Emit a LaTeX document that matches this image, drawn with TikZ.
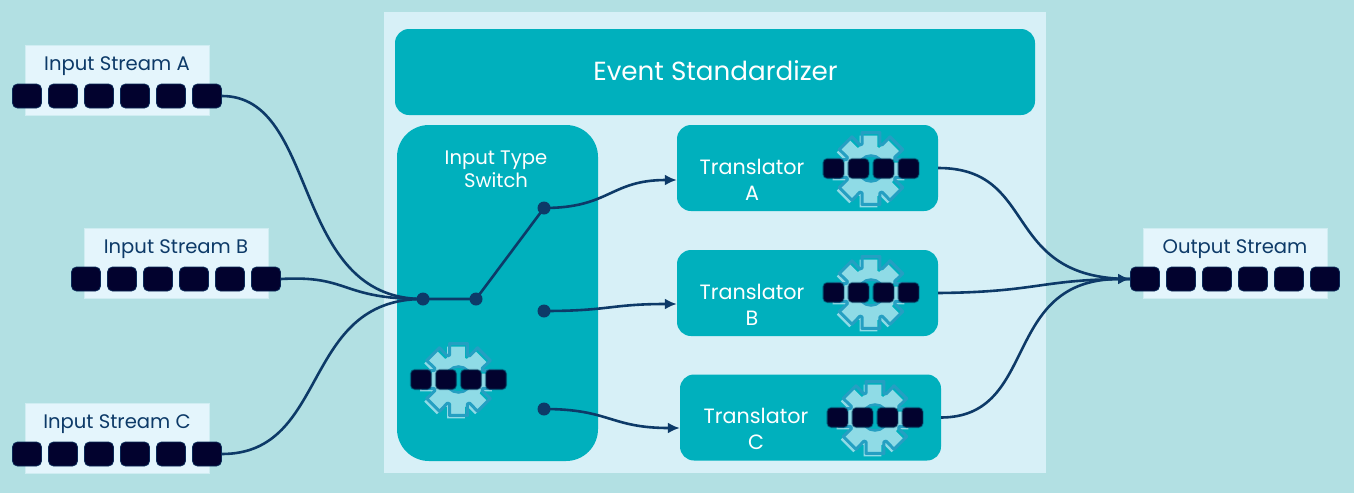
\documentclass[tikz,border=0pt]{standalone}
\usepackage{fontspec}
\setmainfont{Poppins}
\usetikzlibrary{arrows.meta}
\definecolor{bgc}{HTML}{B2E0E3}
\definecolor{panelc}{HTML}{D7F0F7}
\definecolor{tealc}{HTML}{00B0BD}
\definecolor{navyc}{HTML}{0D3A68}
\definecolor{lablc}{HTML}{E4F5FC}
\definecolor{qc}{HTML}{02022E}
\definecolor{gearl}{HTML}{8FDBE6}
\definecolor{gearo}{HTML}{259FC2}
\tikzset{
  qbox/.style={draw=#1,fill=qc,line width=0.8pt,rounded corners=5pt,minimum width=29pt,minimum height=24pt,inner sep=0pt},
  qbox/.default={navyc!70!qc},
  gbox/.style={draw=qc!70!tealc,draw opacity=0.45,line width=1.6pt,fill=qc,rounded corners=4pt,minimum width=20.5pt,minimum height=19.5pt,inner sep=0pt},
  labelbox/.style={fill=lablc,draw=lablc!60!bgc,line width=0.6pt,minimum width=184pt,minimum height=70pt,inner sep=0pt},
  labeltext/.style={text=navyc,font=\fontsize{19.6}{23}\selectfont,inner sep=0pt},
  tbox/.style={fill=tealc,rounded corners=14pt,minimum width=261pt,minimum height=86pt,inner sep=0pt},
  ttext/.style={text=white,font=\fontsize{20.7}{26}\selectfont,align=center,inner sep=0pt},
  conn/.style={draw=navyc,line width=2.6pt},
  arr/.style={conn,-{Latex[length=12pt,width=11pt]}},
  dot/.style={circle,fill=navyc,minimum size=13pt,inner sep=0pt}
}
\newcommand{\gearshape}{%
  (-20:26) \foreach \a in {0,45,...,315}{ -- ({\a-20}:26) -- ({\a-14}:37) -- ({\a+14}:37) -- ({\a+20}:26) } -- cycle}
\newcommand{\geargroup}[3]{% prefix, x, y
  \begin{scope}[shift={(#2,#3)}]
    \fill[gearl,shift={(-2.5,3)}] \gearshape;
    \draw[gearo,line width=3pt,line join=round] \gearshape;
    \fill[tealc] (0,0) circle (13);
    \draw[gearo,line width=2.5pt] (0,0) circle (13);
  \end{scope}
  \foreach \i/\dx in {1/-37.5,2/-12.5,3/12.5,4/37.5}
    \node[gbox] (#1\i) at ({#2+\dx},#3) {};
}
\begin{document}
\begin{tikzpicture}[x=1pt,y=-1pt]
\useasboundingbox (0,0) rectangle (1354,493);
\fill[bgc] (0,0) rectangle (1354,493);
\fill[panelc] (384,12) rectangle (1046,473);
% Main boxes
\node[fill=tealc,rounded corners=14pt,minimum width=640pt,minimum height=86pt,inner sep=0pt] (std) at (715,72) {};
\node[text=white,font=\fontsize{26.2}{30}\selectfont,inner sep=0pt] (stdt) at (715.5,71) {Event Standardizer};
\node[fill=tealc,rounded corners=32pt,minimum width=201pt,minimum height=336pt,inner sep=0pt] (sw) at (497.5,293) {};
\node[ttext,font=\fontsize{19.6}{23}\selectfont] (swt) at (496,169.5) {Input Type\\Switch};
\node[tbox] (ta) at (807.5,168) {};
\node[tbox] (tb) at (807.5,293) {};
\node[tbox] (tc) at (810.5,417.5) {};
\node[ttext] (tat) at (752,180) {Translator\\A};
\node[ttext] (tbt) at (752,305) {Translator\\B};
\node[ttext] (tct) at (756,429) {Translator\\C};
\geargroup{ga}{871}{168.5}
\geargroup{gb}{871}{292.5}
\geargroup{gc}{875}{417.5}
\geargroup{gs}{458.5}{379.5}
% Stream labels
\node[labelbox] (la) at (117,80) {};
\node[labelbox] (lb) at (176,263) {};
\node[labelbox] (lc) at (117,438.5) {};
\node[labelbox] (lo) at (1235,263) {};
\node[labeltext] (lat) at (117,66) {Input Stream A};
\node[labeltext] (lbt) at (176,249) {Input Stream B};
\node[labeltext] (lct) at (117,424.5) {Input Stream C};
\node[labeltext] (lot) at (1235,249) {Output Stream};
\foreach \i in {1,...,6}{
  \node[qbox] (a\i) at ({27+(\i-1)*36},96) {};
  \node[qbox] (b\i) at ({86+(\i-1)*36},279) {};
  \node[qbox] (c\i) at ({27+(\i-1)*36},454) {};
  \node[qbox] (o\i) at ({1145+(\i-1)*36},279) {};
}
% Dots
\node[dot] (d1) at (423,299) {};
\node[dot] (d2) at (476,299) {};
\node[dot] (d3) at (544,208) {};
\node[dot] (d4) at (544,311) {};
\node[dot] (d5) at (544,409) {};
% Connectors
\path[conn] (a6.east) .. controls (320,96) and (290,299) .. (d1.center);
\path[conn] (b6.east) .. controls (350,275) and (340,299) .. (d1.center);
\path[conn] (c6.east) .. controls (330,454) and (300,299) .. (d1.center);
\path[conn] (d1.center) -- (d2.center) -- (d3.center);
\path[arr] (d3.center) .. controls (610,208) and (610,180) .. (ta.west |- 0,180);
\path[arr] (d4.center) .. controls (610,311) and (610,304) .. (tb.west |- 0,304);
\path[arr] (d5.center) .. controls (610,409) and (610,428) .. (tc.west |- 0,428);
\path[conn] (ta.east) .. controls (1040,168) and (1000,279) .. (o1.west);
\path[conn] (tb.east) .. controls (1040,292) and (1040,279) .. (o1.west);
\path[arr] (tc.east) .. controls (1040,417) and (1000,279) .. (o1.west);
\end{tikzpicture}
\end{document}
